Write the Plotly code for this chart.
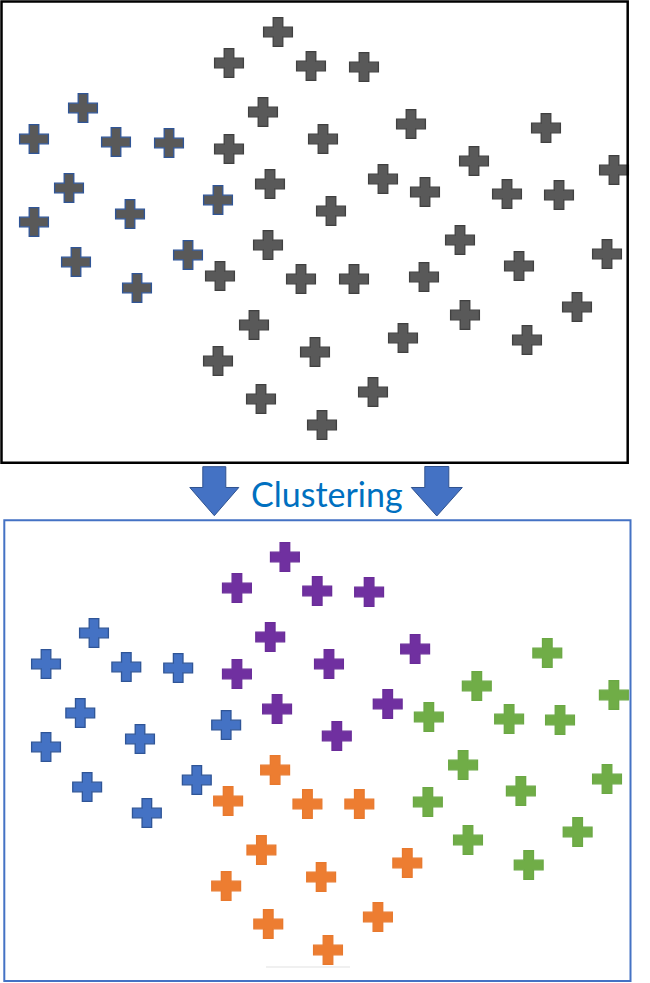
import plotly.graph_objects as go

W, H = 650, 983

# ---- data: point positions (feature units) and cluster labels ----
feat_x = [83, 34, 116, 169, 69, 34, 130, 76, 137, 188, 218,
          278, 229, 311, 364, 263, 229, 323, 411, 270, 383, 331,
          546, 614, 474, 507, 559, 425, 460, 519, 607, 424, 577, 465, 527,
          268, 220, 301, 354, 254, 218, 315, 403, 261, 373, 322]
feat_y = [108, 139, 142, 143, 188, 222, 214, 262, 288, 255, 200,
          32, 63, 66, 67, 112, 149, 139, 124, 184, 179, 211,
          128, 170, 161, 194, 195, 192, 240, 266, 254, 277, 307, 315, 340,
          245, 276, 279, 279, 325, 361, 352, 338, 399, 392, 425]
labels = ["A"] * 11 + ["B"] * 11 + ["C"] * 13 + ["D"] * 11

cluster_names = ["A", "B", "C", "D"]
cluster_fill = {"A": "#4472C4", "B": "#7030A0", "C": "#70AD47", "D": "#ED7D31"}
cluster_line = {"A": "#2F5597", "B": "#6A2C99", "C": "#6BA844", "D": "#E8792E"}
title_text = "Clustering"

fig = go.Figure()

def px(x):
    return x / W

def py(y):
    return 1 - y / H

split = 490  # pixel row separating the two panels

# top panel: unclustered (gray), the first group had a blue outline
gline = ["#2F5597" if l == "A" else "#404040" for l in labels]
fig.add_trace(go.Scatter(
    x=feat_x, y=feat_y, mode="markers", xaxis="x", yaxis="y",
    marker=dict(symbol="cross", size=24, color="#595959",
                line=dict(color=gline, width=1.3)),
    cliponaxis=False, showlegend=False, hoverinfo="skip"))

# bottom panel: clustered
for c in cluster_names:
    cx = [x for x, l in zip(feat_x, labels) if l == c]
    cy = [y for y, l in zip(feat_y, labels) if l == c]
    fig.add_trace(go.Scatter(
        x=cx, y=cy, mode="markers", xaxis="x2", yaxis="y2",
        marker=dict(symbol="cross", size=24, color=cluster_fill[c],
                    line=dict(color=cluster_line[c], width=1.3)),
        cliponaxis=False, showlegend=False, hoverinfo="skip"))

ax = dict(visible=False, showgrid=False, zeroline=False, fixedrange=True)
fig.update_layout(
    width=W, height=H, margin=dict(l=0, r=0, t=0, b=0),
    paper_bgcolor="white", plot_bgcolor="rgba(0,0,0,0)",
    xaxis=dict(domain=[0, 1], range=[0, W], anchor="y", **ax),
    yaxis=dict(domain=[1 - split / H, 1], range=[split, 0], anchor="x", **ax),
    xaxis2=dict(domain=[0, 1], range=[-13.0, 650.9], anchor="y2", **ax),
    yaxis2=dict(domain=[0, 1 - split / H], range=[H - 525, split - 525], anchor="x2", **ax),
)

shapes = []
# panel frames
shapes.append(dict(type="rect", xref="paper", yref="paper",
                   x0=px(1.5), x1=px(627.7), y0=py(1.5), y1=py(462.7),
                   line=dict(color="black", width=2.5), fillcolor="rgba(0,0,0,0)"))
shapes.append(dict(type="rect", xref="paper", yref="paper",
                   x0=px(4.3), x1=px(630.5), y0=py(520.3), y1=py(981),
                   line=dict(color="#4472C4", width=2), fillcolor="rgba(0,0,0,0)"))

def arrow(cx, top, head_y, tip_y, shaft_hw, head_hw):
    pts = [(cx - shaft_hw, top), (cx + shaft_hw, top), (cx + shaft_hw, head_y),
           (cx + head_hw, head_y), (cx, tip_y), (cx - head_hw, head_y),
           (cx - shaft_hw, head_y)]
    path = "M " + " L ".join(f"{px(x):.5f},{py(y):.5f}" for x, y in pts) + " Z"
    return dict(type="path", xref="paper", yref="paper", path=path,
                fillcolor="#4472C4", line=dict(color="#2F528F", width=1))

shapes.append(arrow(214.3, 466.7, 487.5, 515.7, 11.5, 24.5))
shapes.append(arrow(436.8, 466.5, 487.5, 516, 12, 25.5))

# faint gray artifact line near the bottom
shapes.append(dict(type="line", xref="paper", yref="paper",
                   x0=px(266), x1=px(350), y0=py(967), y1=py(967),
                   line=dict(color="#EBEBEB", width=1.5)))

fig.update_layout(shapes=shapes)

fig.add_annotation(x=px(327), y=py(494), xref="paper", yref="paper",
                   text=title_text, showarrow=False, xanchor="center", yanchor="middle",
                   font=dict(family="Lato, Open Sans, sans-serif", size=34, color="#0070C0"))

fig.write_html("out.html")
